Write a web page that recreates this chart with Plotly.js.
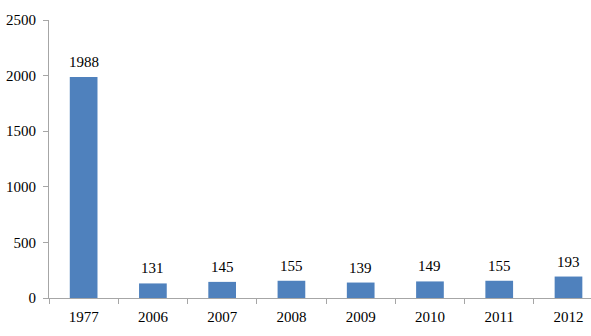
<!DOCTYPE html>
<html>
<head>
<meta charset="utf-8">
<script src="https://cdn.plot.ly/plotly-3.0.1.min.js"></script>
<style>html,body{margin:0;padding:0;background:#fff;}#chart{width:591px;height:336px;}</style>
</head>
<body>
<div id="chart"></div>
<script>
var categories = ["1977", "2006", "2007", "2008", "2009", "2010", "2011", "2012"];
var values = [1988, 131, 145, 155, 139, 149, 155, 193];
var yTicks = [0, 500, 1000, 1500, 2000, 2500];

var FONT = "Liberation Serif, Times New Roman, serif";

var trace = {
  type: "bar",
  x: categories,
  y: values,
  marker: {color: "#4F81BD"},
  hoverinfo: "skip"
};

var labels = categories.map(function (c, i) {
  return {
    x: i, y: values[i], xref: "x", yref: "y",
    text: String(values[i]),
    showarrow: false, yanchor: "bottom", yshift: 5,
    font: {family: FONT, size: 15, color: "#000"}
  };
});

var layout = {
  width: 591,
  height: 336,
  margin: {l: 49, r: 0, t: 20, b: 38},
  paper_bgcolor: "#fff",
  plot_bgcolor: "#fff",
  bargap: 0.6,
  showlegend: false,
  font: {family: FONT, size: 15, color: "#000"},
  annotations: labels,
  xaxis: {
    type: "category",
    range: [-0.5, 7.325],
    showline: true,
    linecolor: "#A6A6A6",
    linewidth: 1,
    ticks: "outside",
    tickson: "boundaries",
    ticklen: 5,
    tickcolor: "#A6A6A6",
    showgrid: false,
    zeroline: false,
    tickfont: {size: 15},
    ticklabelstandoff: 5
  },
  yaxis: {
    range: [0, 2500],
    tickvals: yTicks,
    ticktext: yTicks.map(String),
    showline: true,
    linecolor: "#A6A6A6",
    linewidth: 1,
    ticks: "outside",
    ticklen: 5,
    tickcolor: "#A6A6A6",
    showgrid: false,
    zeroline: false,
    tickfont: {size: 15},
    ticklabelstandoff: 4
  }
};

Plotly.newPlot("chart", [trace], layout, {displayModeBar: false, staticPlot: true});
</script>
</body>
</html>
